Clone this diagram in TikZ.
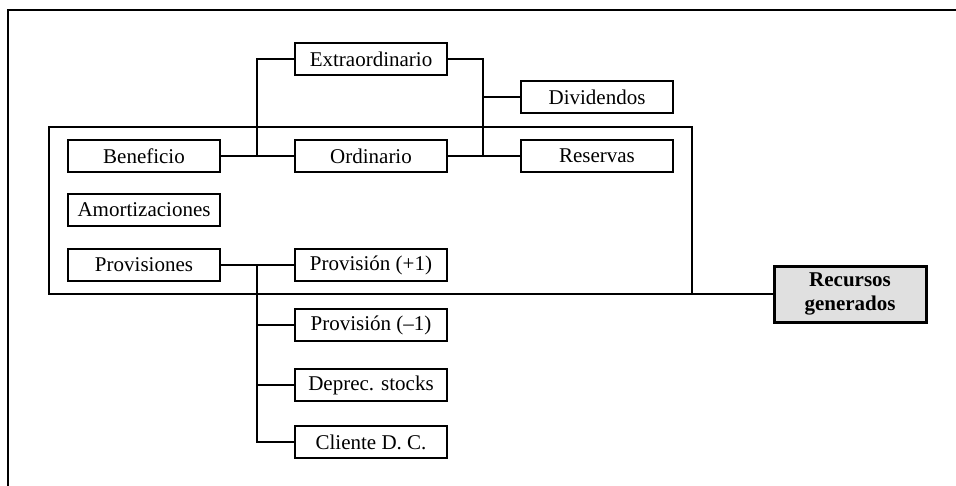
\documentclass[tikz,border=0pt]{standalone}
\usepackage{fontspec}
\setmainfont{Liberation Serif}
\begin{document}
\begin{tikzpicture}[x=0.5pt,y=-0.5pt,
  line width=1pt,
  box/.style={draw, fill=white, minimum width=76pt, minimum height=16pt,
    inner sep=0pt, font=\fontsize{10.5}{12}\selectfont},
  result/.style={draw, line width=1.5pt, fill=black!12, minimum width=76pt,
    minimum height=28pt, inner sep=0pt, align=center,
    font=\fontsize{10.5}{12}\selectfont\bfseries}]
\useasboundingbox (0,0) rectangle (956,486);
% outer frame (top and left edges)
\draw (956,10) -- (8,10) -- (8,486);
% frame around the funds generated internally
\draw (49,127) rectangle (692,294);
\coordinate (fr) at (692,294);
% left column
\node[box] (ben) at (144,156) {Beneficio};
\node[box] (amo) at (144,210) {Amortizaciones};
\node[box] (prov) at (144,265) {Provisiones};
% middle column
\node[box] (ext) at (371,59) {Extraordinario};
\node[box] (ord) at (371,156) {Ordinario};
\node[box] (p1) at (371,265) {Provisión (+1)};
\node[box] (p2) at (371,325) {Provisión (–1)};
\node[box] (dep) at (371,385) {Deprec. stocks};
\node[box] (cli) at (371,442) {Cliente D. C.};
% right column
\node[box] (div) at (597,97) {Dividendos};
\node[box] (res) at (597,156) {Reservas};
% result
\node[result] (rec) at (850,294) {Recursos\\generados};
% junctions
\coordinate (j1) at (257,156);
\coordinate (j2) at (483,156);
\coordinate (j3) at (257,265);
% connectors
\draw (ben.east) -- (ord.west);
\draw (j1) |- (ext.west);
\draw (ext.east) -| (j2);
\draw (ord.east) -- (res.west);
\draw (j2 |- div.west) -- (div.west);
\draw (prov.east) -- (p1.west);
\draw (j3) |- (cli.west);
\draw (j3 |- p2.west) -- (p2.west);
\draw (j3 |- dep.west) -- (dep.west);
\draw (fr) -- (rec.west);
\end{tikzpicture}
\end{document}
